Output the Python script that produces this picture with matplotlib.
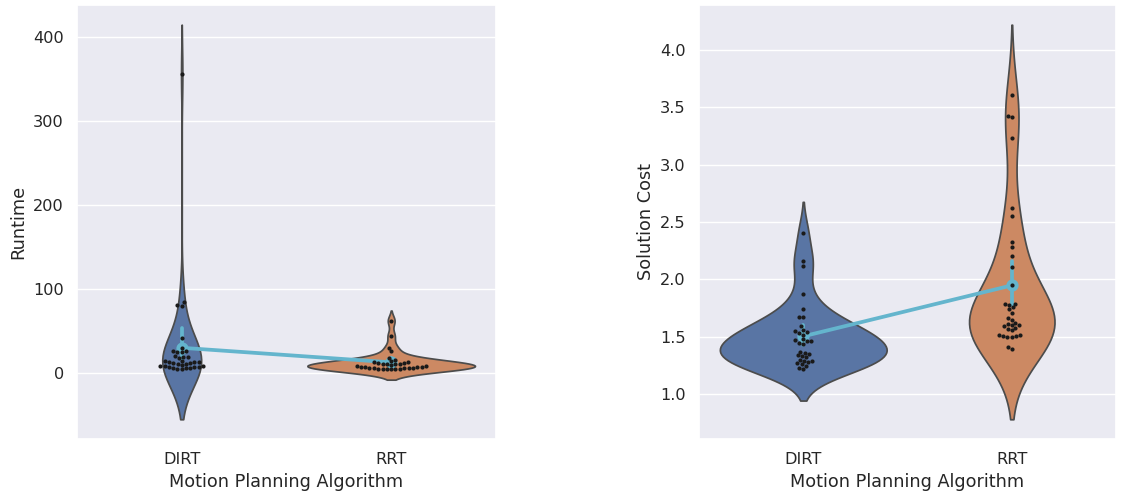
import numpy as np
import pandas as pd
import matplotlib
matplotlib.use("Agg")
import matplotlib.pyplot as plt
import seaborn as sns

categories = ["DIRT", "RRT"]

dirt_runtime = [355, 84, 81, 80, 42, 30, 26, 26, 25, 25, 20, 19, 19, 18,
                14, 14, 13, 13, 13, 12, 12, 11, 11, 9, 8, 8, 8, 7, 7, 7,
                6, 6, 6, 5, 4]
rrt_runtime = [62, 44, 30, 26, 18, 15, 14, 13, 13, 12, 12, 11, 11, 10, 10, 9,
               8, 8, 7, 7, 7, 7, 6, 6, 6, 6, 6, 5, 5, 5, 5, 4, 4]

dirt_cost = [2.40, 2.16, 2.12, 1.875, 1.74, 1.67, 1.67, 1.59, 1.56, 1.55, 1.54,
             1.53, 1.52, 1.48, 1.47, 1.46, 1.46, 1.45, 1.44, 1.37, 1.36, 1.35,
             1.34, 1.33, 1.32, 1.30, 1.29, 1.29, 1.28, 1.27, 1.26, 1.25, 1.23, 1.22]
rrt_cost = [3.61, 3.42, 3.41, 3.23, 2.62, 2.55, 2.33, 2.28, 2.20, 2.11, 1.95,
            1.79, 1.79, 1.78, 1.76, 1.74, 1.71, 1.66, 1.65, 1.62, 1.61, 1.60,
            1.60, 1.59, 1.58, 1.57, 1.56, 1.52, 1.52, 1.51, 1.51, 1.50, 1.50,
            1.41, 1.39]

df_rt = pd.DataFrame({
    "Motion Planning Algorithm": [categories[0]] * len(dirt_runtime) + [categories[1]] * len(rrt_runtime),
    "Runtime": dirt_runtime + rrt_runtime,
})
df_c = pd.DataFrame({
    "Motion Planning Algorithm": [categories[0]] * len(dirt_cost) + [categories[1]] * len(rrt_cost),
    "Solution Cost": dirt_cost + rrt_cost,
})

sns.set_theme(font_scale=1.055)
fig = plt.figure(figsize=(11.22, 4.98), dpi=100)
ax1 = fig.add_axes([0.0686, 0.1185, 0.3734, 0.8715])
ax2 = fig.add_axes([0.623, 0.1185, 0.3717, 0.8715])

x = "Motion Planning Algorithm"
for ax, df, y in [(ax1, df_rt, "Runtime"), (ax2, df_c, "Solution Cost")]:
    sns.violinplot(data=df, x=x, y=y, hue=x, legend=False, inner=None,
                   common_norm=True, order=categories, ax=ax)
    sns.pointplot(data=df, x=x, y=y, color="c", order=categories, seed=0, ax=ax)
    sns.swarmplot(data=df, x=x, y=y, color="k", size=3, order=categories,
                  zorder=3, ax=ax)

fig.savefig("out.png", dpi=100)
